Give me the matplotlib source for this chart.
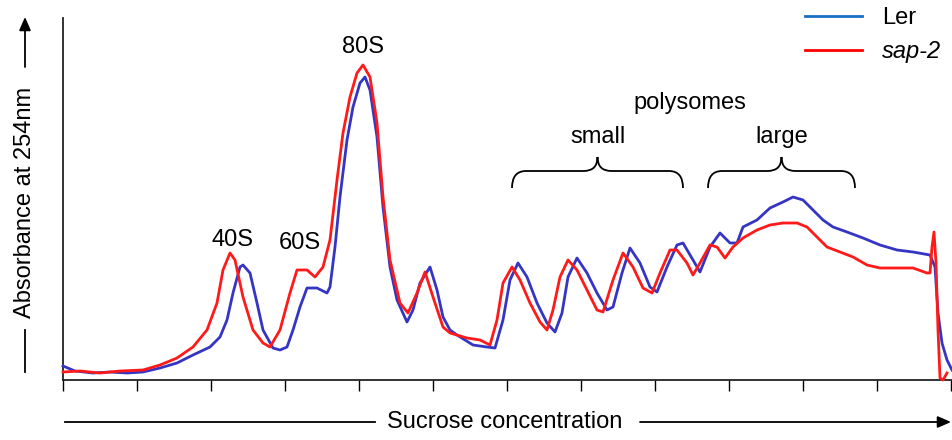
"""Polysome profile: Ler vs sap-2 absorbance trace along the sucrose gradient."""
import matplotlib

matplotlib.use("Agg")

import matplotlib.pyplot as plt
from matplotlib.lines import Line2D
from matplotlib.path import Path
from matplotlib.patches import FancyArrowPatch, PathPatch

plt.rcParams["font.family"] = ["Liberation Sans", "DejaVu Sans"]

# gradient position (a.u., 74 units per fraction tick) and A254 (a.u.)
LER_POS = [0, 12, 30, 47, 64, 80, 97, 114, 130, 147, 157, 164, 170, 177, 180, 187,
           194, 200, 210, 217, 224, 230, 237, 244, 254, 264, 267, 272, 277, 284, 290,
           297, 302, 307, 314, 320, 327, 334, 344, 350, 357, 367, 374, 380, 387, 394,
           410, 424, 432, 440, 447, 455, 464, 474, 484, 492, 499, 505, 514, 524, 534,
           544, 550, 559, 567, 577, 587, 594, 604, 614, 620, 630, 637, 647, 657, 667,
           674, 680, 694, 707, 720, 730, 740, 750, 760, 770, 784, 800, 817, 834, 850,
           867, 872, 875, 879, 884, 889]
LER_ABS = [14, 9, 7, 8, 7, 8, 12, 17, 25, 33, 43, 60, 87, 113, 115, 107,
           77, 50, 32, 30, 33, 50, 73, 92, 92, 87, 93, 133, 183, 240, 273,
           297, 303, 290, 243, 173, 113, 80, 58, 70, 97, 113, 90, 63, 50, 45,
           35, 33, 32, 60, 100, 117, 103, 77, 57, 48, 67, 103, 122, 107, 87,
           70, 73, 107, 132, 117, 93, 88, 113, 135, 137, 120, 108, 133, 147, 137,
           137, 153, 160, 172, 178, 183, 180, 170, 160, 153, 148, 142, 135, 130, 128,
           125, 113, 67, 37, 20, 10]

SAP2_POS = [0, 17, 37, 57, 80, 97, 114, 130, 144, 154, 160, 167, 172, 180, 190, 200,
            207, 217, 227, 234, 244, 252, 260, 267, 274, 280, 287, 294, 300, 307, 314,
            320, 327, 337, 345, 354, 362, 370, 380, 387, 404, 417, 427, 434, 440, 449,
            457, 467, 477, 484, 490, 497, 505, 514, 524, 534, 540, 550, 560, 570, 580,
            589, 597, 607, 614, 624, 630, 637, 647, 654, 662, 670, 680, 694, 707, 720,
            734, 744, 754, 764, 777, 790, 804, 817, 834, 850, 864, 867, 869, 871, 873,
            875, 877, 880, 884]
SAP2_ABS = [8, 9, 7, 9, 10, 15, 22, 33, 50, 77, 110, 127, 120, 83, 50, 37,
            33, 50, 87, 110, 110, 103, 113, 140, 200, 247, 283, 307, 315, 303, 257,
            183, 120, 77, 67, 87, 108, 83, 53, 47, 42, 40, 35, 60, 97, 113,
            100, 77, 58, 50, 70, 103, 120, 110, 90, 70, 68, 100, 127, 113, 92,
            87, 107, 130, 130, 117, 105, 117, 135, 133, 122, 133, 142, 150, 155, 157,
            157, 153, 143, 133, 128, 123, 115, 112, 112, 112, 107, 107, 133, 148, 117,
            50, 2, 0, 7]

TICK_POS = [i * 74 for i in range(13)]

PEAKS = ["40S", "60S", "80S"]
PEAK_XY = [(169, 140), (237, 137), (300, 333)]

BLUE = "#3535c4"
RED = "#ff1a1a"
FS = 17


def brace(ax, x0, x1, y_end, y_bar, y_tip, r=14):
    """Curly brace opening downward, tip at the middle."""
    xm = (x0 + x1) / 2
    verts = [
        (x0, y_end), (x0, y_bar), (x0 + r, y_bar),
        (xm - r, y_bar), (xm, y_bar), (xm, y_tip),
        (xm, y_bar), (xm + r, y_bar),
        (x1 - r, y_bar), (x1, y_bar), (x1, y_end),
    ]
    codes = [Path.MOVETO, Path.CURVE3, Path.CURVE3,
             Path.LINETO, Path.CURVE3, Path.CURVE3,
             Path.CURVE3, Path.CURVE3,
             Path.LINETO, Path.CURVE3, Path.CURVE3]
    ax.add_patch(PathPatch(Path(verts, codes), fill=False, lw=1.3,
                           color="black", clip_on=False))


def main() -> int:
    W, H = 953, 440
    fig = plt.figure(figsize=(W / 100, H / 100), dpi=100)
    ax = fig.add_axes([63 / W, 60 / H, 889 / W, 362 / H])

    ax.plot(LER_POS, LER_ABS, color=BLUE, lw=2.0, clip_on=False, zorder=3)
    ax.plot(SAP2_POS, SAP2_ABS, color=RED, lw=2.0, clip_on=False, zorder=3)

    ax.set_xlim(0, 889)
    ax.set_ylim(0, 362)
    ax.set_xticks(TICK_POS)
    ax.set_xticklabels([])
    ax.set_yticks([])
    ax.tick_params(axis="x", direction="out", length=8, width=1.0)
    for side in ("top", "right"):
        ax.spines[side].set_visible(False)
    for side in ("left", "bottom"):
        ax.spines[side].set_linewidth(1.3)
        ax.spines[side].set_color("#222222")

    for label, (x, y) in zip(PEAKS, PEAK_XY):
        ax.text(x, y, label, ha="center", va="center", fontsize=FS)

    brace(ax, 449, 620, 192, 209, 223)
    brace(ax, 645, 792, 192, 209, 223)
    ax.text(535, 243, "small", ha="center", va="center", fontsize=FS)
    ax.text(719, 243, "large", ha="center", va="center", fontsize=FS)
    ax.text(627, 277, "polysomes", ha="center", va="center", fontsize=FS)

    handles = [Line2D([], [], color="#1a6fc4", lw=2.0),
               Line2D([], [], color="#ff0000", lw=2.0)]
    leg = fig.legend(handles, ["Ler", "sap-2"], loc="upper left",
                     bbox_to_anchor=(805 / W, 1 - 7 / H), frameon=False,
                     fontsize=FS, handlelength=2.4, handletextpad=0.85,
                     labelspacing=0.46, borderpad=0, borderaxespad=0)
    leg.get_texts()[1].set_style("italic")

    # y axis label with arrow
    fig.text(25 / W, 1 - 202 / H, "Absorbance at 254nm", rotation=90,
             ha="center", va="center", fontsize=FS)
    fig.add_artist(Line2D([25 / W, 25 / W], [1 - 330 / H, 1 - 372 / H],
                          color="black", lw=1.3))
    fig.patches.append(FancyArrowPatch(
        (25 / W, 1 - 67 / H), (25 / W, 1 - 17 / H), transform=fig.transFigure,
        arrowstyle="-|>,head_length=8,head_width=3.5", color="black", lw=1.3,
        shrinkA=0, shrinkB=0))

    # x axis label with arrow
    fig.text(505 / W, 1 - 422 / H, "Sucrose concentration",
             ha="center", va="center", fontsize=FS)
    fig.add_artist(Line2D([65 / W, 375 / W], [1 - 422 / H, 1 - 422 / H],
                          color="black", lw=1.3))
    fig.patches.append(FancyArrowPatch(
        (640 / W, 1 - 422 / H), (951 / W, 1 - 422 / H), transform=fig.transFigure,
        arrowstyle="-|>,head_length=8,head_width=3.5", color="black", lw=1.3,
        shrinkA=0, shrinkB=0))

    fig.savefig("out.png", dpi=100)
    plt.close(fig)
    return 0


if __name__ == "__main__":
    raise SystemExit(main())
